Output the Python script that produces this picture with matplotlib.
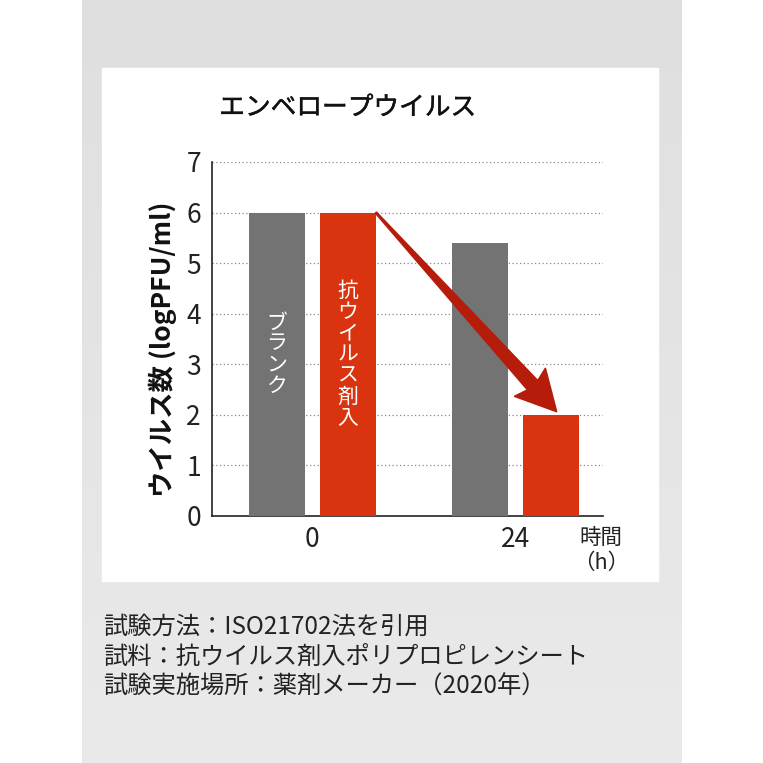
import numpy as np
import matplotlib
matplotlib.use('Agg')
import matplotlib.pyplot as plt
import matplotlib.patheffects as pe
from matplotlib.patches import Rectangle, Polygon
from matplotlib.transforms import IdentityTransform

plt.rcParams['font.family'] = ['Noto Sans CJK JP', 'DejaVu Sans']

# data
title = 'エンベロープウイルス'
hours = ['0', '24']
blank = [6.0, 5.4]
treated = [6.0, 2.0]
series_names = ['ブランク', '抗ウイルス剤入']
y_label = 'ウイルス数 (logPFU/ml)'
x_unit = '時間\n（h）'
y_ticks = [0, 1, 2, 3, 4, 5, 6, 7]
notes = ['試験方法：ISO21702法を引用',
         '試料：抗ウイルス剤入ポリプロピレンシート',
         '試験実施場所：薬剤メーカー（2020年）']

gray = '#747373'
red = '#d9340f'
arrow_red = '#b51c0a'
W = 763.0

fig = plt.figure(figsize=(7.63, 7.63), dpi=100)
fig.patch.set_facecolor('white')

# gray card with slight vertical gradient
bg = fig.add_axes([82 / W, 0, 600 / W, 1])
grad = np.linspace(0, 1, 256).reshape(-1, 1)
bg.imshow(grad, aspect='auto', cmap=matplotlib.colors.LinearSegmentedColormap.from_list(
    'g', ['#e0dfdf', '#ebeaea']), extent=[0, 1, 0, 1], origin='upper')
bg.set_axis_off()

# white panel
fig.patches.append(Rectangle((102 / W, 1 - 581 / W), 556 / W, 513 / W,
                             transform=fig.transFigure, color='white', zorder=1))

ax = fig.add_axes([212 / W, 1 - 516 / W, (603 - 212) / W, (516 - 162) / W])
ax.set_zorder(2)
ax.patch.set_alpha(0)

x = np.arange(len(hours))
bw = 0.276
off = 0.175
ax.bar(x - off, blank, bw, color=gray, zorder=3)
ax.bar(x + off, treated, bw, color=red, zorder=3)

ax.set_xlim(-0.495, 1.433)
ax.set_ylim(0, 7)
ax.set_yticks(y_ticks)
ax.set_xticks(x)
ax.set_xticklabels(hours)
ax.tick_params(length=0, labelsize=19, colors='#222222')
ax.tick_params(axis='y', pad=8)
ax.tick_params(axis='x', pad=7)
for t in y_ticks[1:]:
    ax.axhline(t, color='#888888', lw=0.9, ls=(0, (1, 2)), zorder=1)
for s in ['top', 'right']:
    ax.spines[s].set_visible(False)
for s in ['left', 'bottom']:
    ax.spines[s].set_color('#222222')
    ax.spines[s].set_linewidth(1.2)

# vertical labels inside the bars
ax.text(x[0] - off, 3.2, '\n'.join(series_names[0]), color='white', fontsize=15,
        ha='center', va='center', linespacing=0.95, zorder=4)
ax.text(x[0] + off, 3.2, '\n'.join(series_names[1]), color='white', fontsize=15,
        ha='center', va='center', linespacing=0.95, zorder=4)

ax.text(-0.125, 0.47, y_label, transform=ax.transAxes, rotation=90, fontsize=19,
        fontweight='bold', ha='center', va='center', color='#111111')
ax.text(0.995, -0.098, x_unit, transform=ax.transAxes, fontsize=15.5, ha='center',
        va='center', linespacing=1.15, color='#222222')

fig.text(348 / W, 1 - 108 / W, title, fontsize=18.5, fontweight='normal', ha='center',
         va='center', color='#111111', zorder=3,
         path_effects=[pe.withStroke(linewidth=0.35, foreground='#111111')])

# tapered arrow from the treated bar at 0 h to the treated bar at 24 h
fig.canvas.draw()
S = ax.transData.transform((x[0] + off + bw / 2, treated[0]))
T = ax.transData.transform((x[1] + off + 0.03, treated[1] + 0.06))
d = T - S
L = np.hypot(*d)
u = d / L
n = np.array([-u[1], u[0]])
head_len, head_half, neck_half, tail_half = 36, 21, 7, 0.8
N = T - u * head_len
pts = [S + n * tail_half, N + n * neck_half, N - u * 4 + n * head_half, T,
       N - u * 4 - n * head_half, N - n * neck_half, S - n * tail_half]
ax.add_patch(Polygon(pts, closed=True, transform=IdentityTransform(),
                     color=arrow_red, zorder=5, clip_on=False))

for i, line in enumerate(notes):
    fig.text(103 / W, 1 - (627 + 30 * i) / W, line, fontsize=17.5, ha='left',
             va='center', color='#222222', zorder=3)

fig.savefig('out.png', dpi=100)
